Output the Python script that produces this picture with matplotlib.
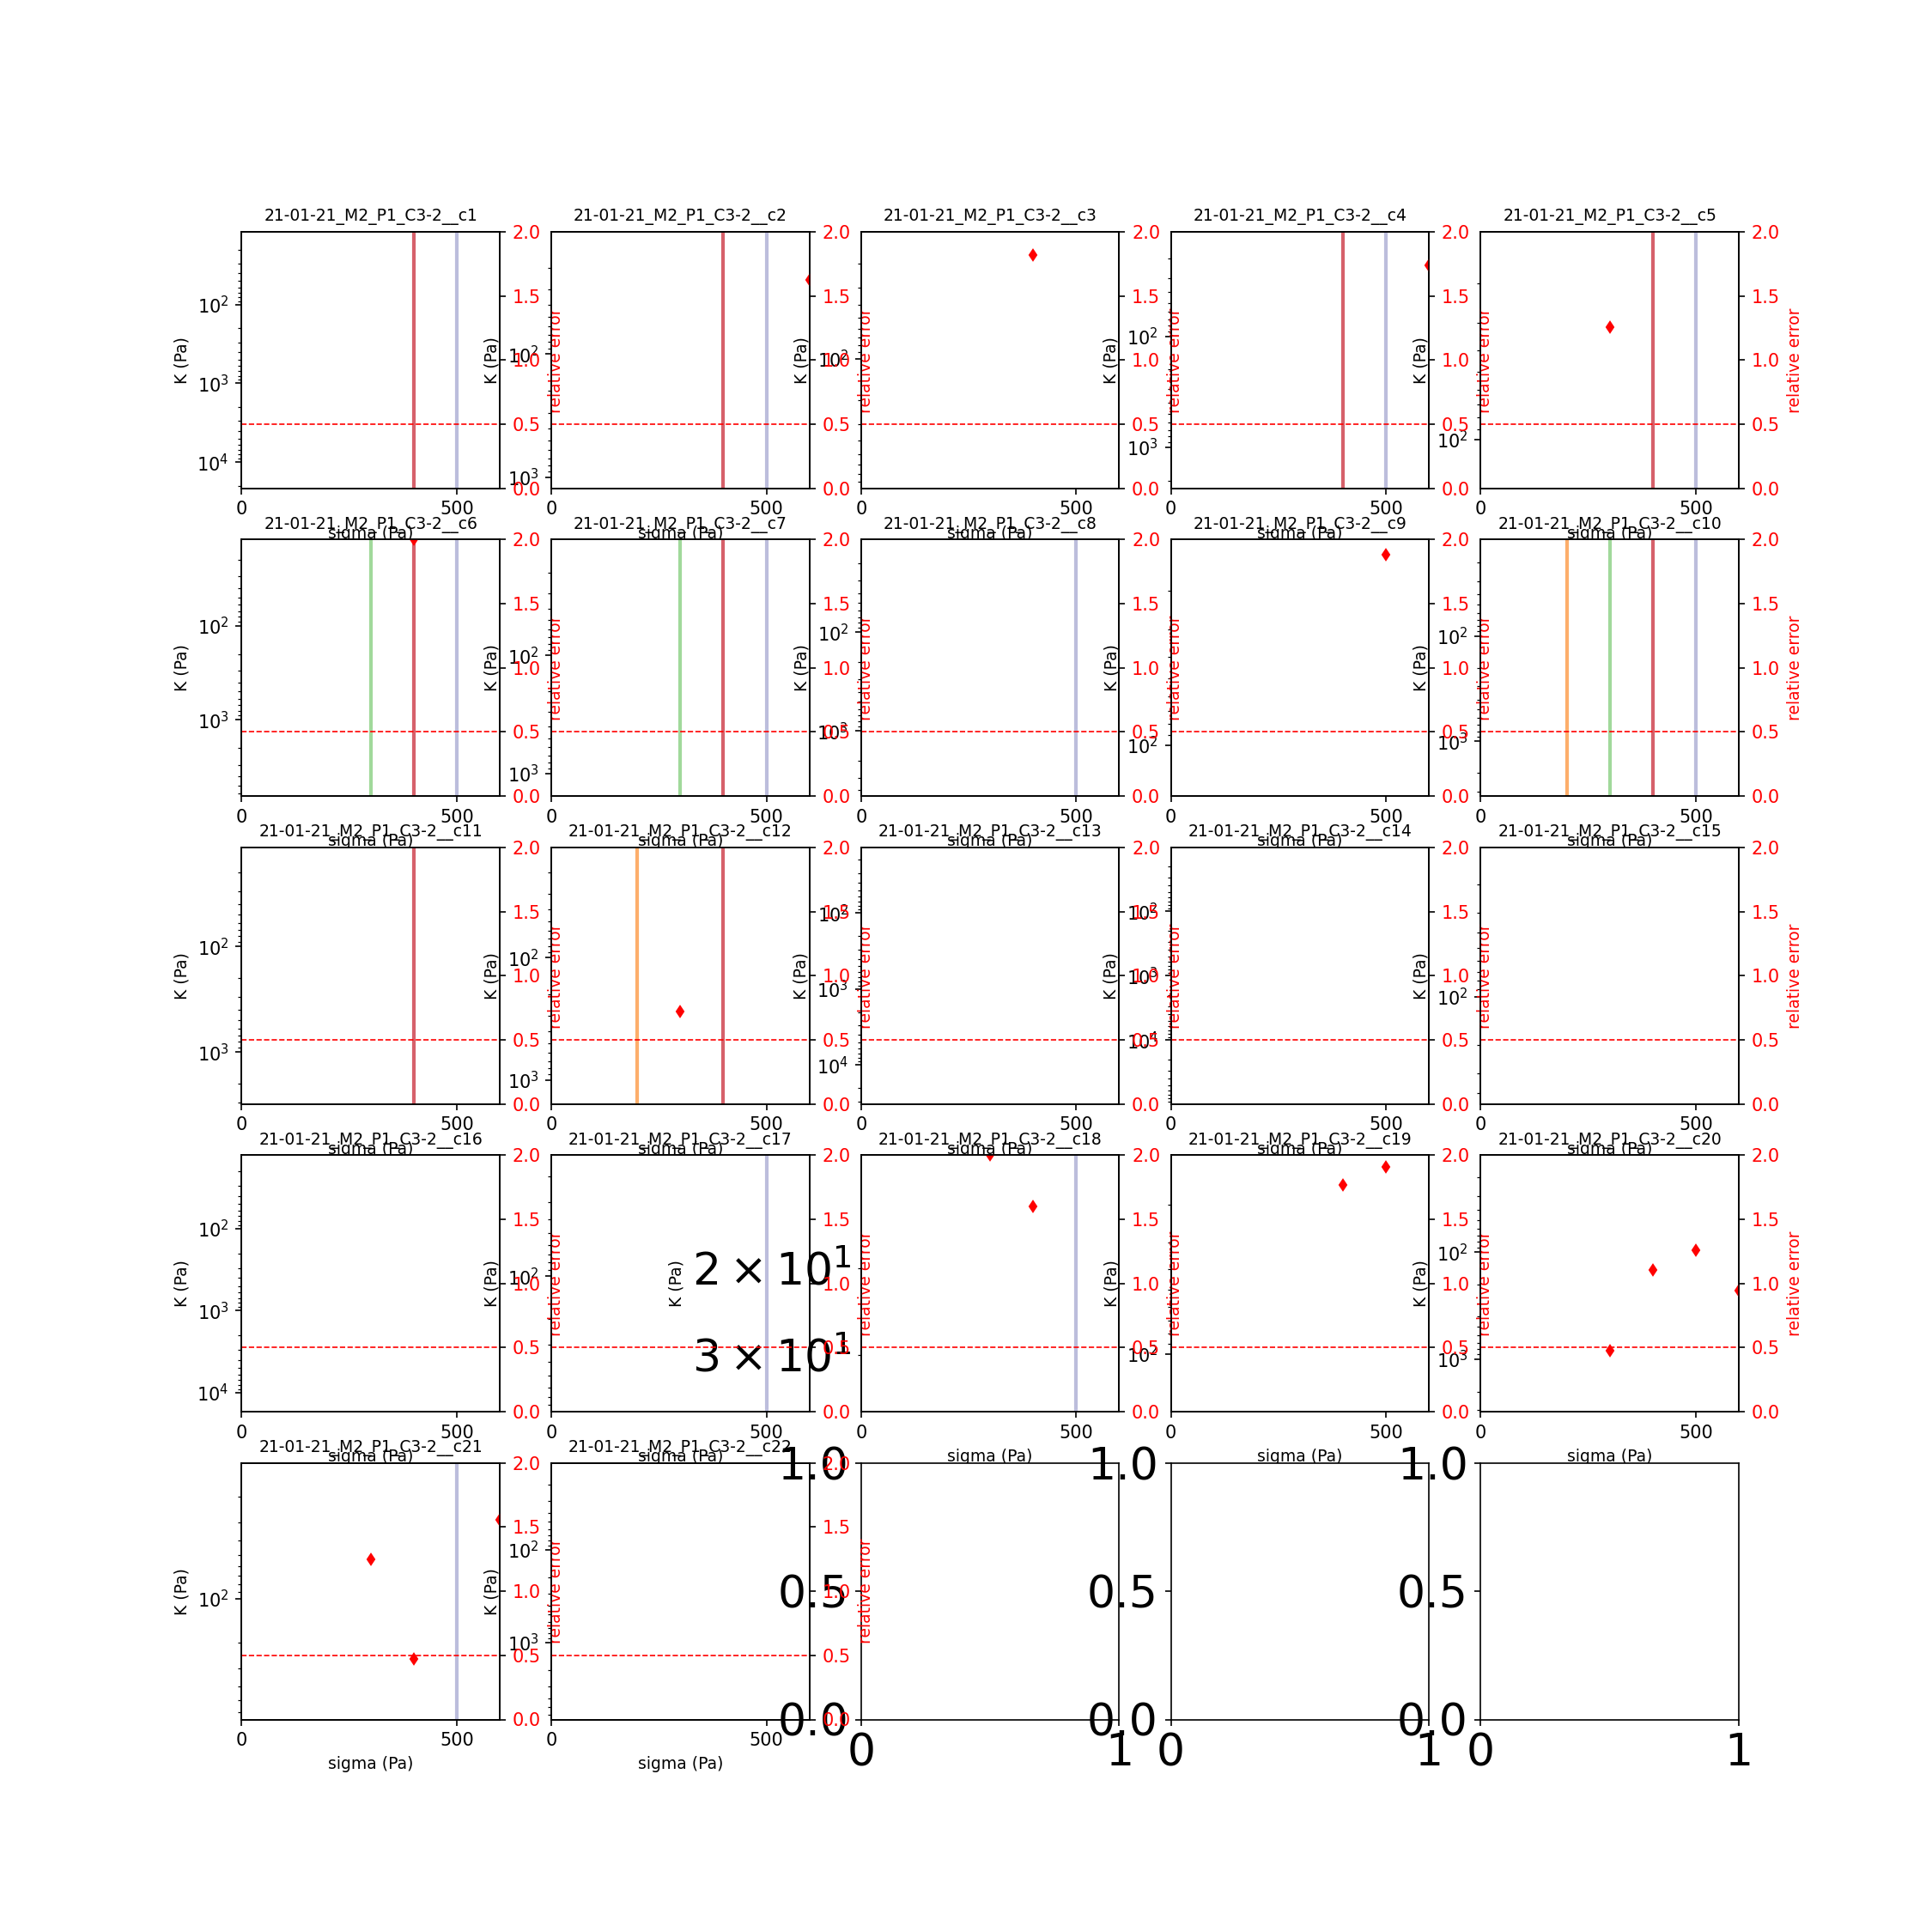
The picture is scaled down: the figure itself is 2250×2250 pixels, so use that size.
import numpy as np
import matplotlib.pyplot as plt

cells = [f"21-01-21_M2_P1_C3-2__c{i}" for i in range(1, 23)]

# log10 of the K axis limits, the axis is inverted (top value is the small one)
K_top = [1.074, 1.01, 1.07, 1.06, 1.07,
         1.087, 1.02, 1.061, 1.07, 1.084,
         1.062, 1.097, 1.137, 1.01, 1.07,
         1.105, 1.15, 1.071, 1.07, 1.093,
         1.07, 1.064]
K_bottom = [4.334, 3.09, 2.95, 3.37, 2.22,
            3.81, 3.19, 3.66, 2.23, 3.52,
            3.49, 3.197, 4.51, 4.99, 2.67,
            4.23, 2.95, 1.592, 2.27, 3.49,
            2.83, 3.83]

# threshold stresses marked in each cell
thresholds = [[400, 500], [400, 500], [], [400, 500], [400, 500],
              [300, 400, 500], [300, 400, 500], [500], [], [200, 300, 400, 500],
              [400], [200, 400], [], [], [],
              [], [500], [500], [], [],
              [500], []]

# relative error of the fit for each stress
err_sigma = [[], [600], [400], [600], [300],
             [400], [], [], [500], [],
             [], [300], [], [], [],
             [], [], [300, 400], [400, 500], [300, 400, 500, 600],
             [300, 400, 600], []]
err_value = [[], [1.625], [1.82], [1.74], [1.26],
             [2.0], [], [], [1.885], [],
             [], [0.72], [], [], [],
             [], [], [2.0, 1.6], [1.77, 1.91], [0.475, 1.105, 1.262, 0.946],
             [1.25, 0.47, 1.56], []]

line_colors = {200: '#fdae6b', 300: '#a1d99b', 400: '#d6616b', 500: '#bcbddc'}

fig, axes = plt.subplots(5, 5, figsize=(15, 15))
for i, ax in enumerate(axes.flat):
    if i >= len(cells):
        # unused panels keep the big default tick labels
        ax.tick_params(labelsize=25)
        continue
    ax.set_yscale('log')
    ax.set_ylim(10 ** K_bottom[i], 10 ** K_top[i])
    ax.set_xlim(0, 600)
    ax.set_xticks([0, 500])
    for s in thresholds[i]:
        ax.axvline(s, color=line_colors[s], lw=2)
    ax.set_title(cells[i], fontsize=9)
    ax.set_xlabel('sigma (Pa)', fontsize=9)
    ax.set_ylabel('K (Pa)', fontsize=9)
    ax.tick_params(which='major', labelsize=10)
    ax.tick_params(which='minor', labelsize=25)

    ax2 = ax.twinx()
    ax2.plot(err_sigma[i], err_value[i], 'rd', ms=4)
    ax2.axhline(0.5, color='r', ls='--', lw=0.8)
    ax2.set_ylim(0, 2)
    ax2.set_ylabel('relative error', color='r', fontsize=9)
    ax2.tick_params(axis='y', labelcolor='r', labelsize=10)

fig.savefig('out.png', dpi=150)
